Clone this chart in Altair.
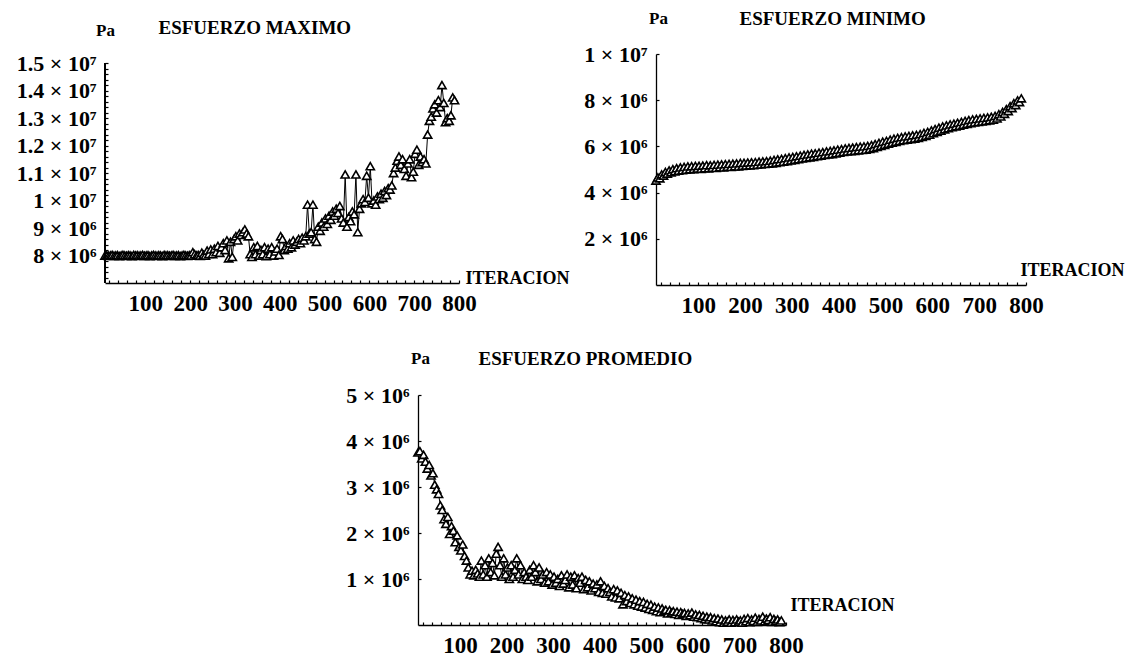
import altair as alt
import pandas as pd

FONT = "Liberation Serif"

iteracion = list(range(10, 791, 4))

# values in units of 1e6 Pa
maximo = [
    8.00, 8.01, 7.99, 8.00, 8.02, 7.99, 8.00, 8.01, 7.98, 8.00,
    8.02, 8.00, 7.99, 8.01, 8.00, 7.98, 8.02, 8.00, 8.01, 7.99,
    8.00, 8.02, 7.99, 8.00, 8.01, 7.98, 8.00, 8.02, 8.00, 7.99,
    8.01, 8.00, 7.98, 8.02, 8.00, 8.01, 7.99, 8.00, 8.02, 7.99,
    8.00, 8.01, 7.98, 8.00, 8.02, 8.00, 7.99, 8.01, 8.00, 8.12,
    8.05, 8.00, 8.02, 7.99, 8.10, 8.03, 8.00, 8.18, 8.06, 8.22,
    8.05, 8.25, 8.12, 8.35, 8.10, 8.30, 8.45, 8.20, 8.55, 7.90,
    8.50, 7.95, 8.60, 8.70, 8.55, 8.80, 8.75, 8.85, 8.95, 8.80,
    8.70, 8.05, 7.95, 8.30, 8.05, 8.35, 8.00, 8.20, 8.05, 8.30,
    7.98, 8.25, 8.05, 8.30, 8.00, 8.15, 8.25, 8.02, 8.70, 8.60,
    8.20, 8.35, 8.25, 8.45, 8.30, 8.55, 8.40, 8.50, 8.60, 8.45,
    8.65, 8.55, 8.70, 9.85, 8.80, 8.85, 9.85, 8.60, 8.50, 9.05,
    8.90, 9.20, 9.05, 9.35, 9.15, 9.45, 9.30, 9.60, 9.45, 9.70,
    9.55, 9.80, 9.35, 9.20, 10.95, 9.05, 9.40, 9.25, 9.60, 9.50,
    10.95, 8.85, 9.70, 9.90, 10.05, 9.95, 10.90, 10.10, 11.25, 9.90,
    10.00, 9.85, 10.15, 10.05, 10.25, 10.10, 10.35, 10.20, 10.45, 10.40,
    10.55, 11.00, 11.20, 11.45, 11.60, 11.30, 11.50, 11.15, 10.90, 11.35,
    11.50, 10.85, 11.05, 11.70, 11.85, 11.30, 11.60, 11.40, 11.50, 11.35,
    12.40, 12.90, 13.05, 13.35, 13.50, 13.20, 13.65, 13.40, 14.20, 13.55,
    12.85, 13.00, 12.90, 13.10, 13.75, 13.65,
]

minimo = [
    4.52, 4.66, 4.62, 4.79, 4.74, 4.89, 4.82, 4.96, 4.88, 5.01,
    4.92, 5.06, 4.95, 5.09, 4.97, 5.11, 4.99, 5.13, 5.01, 5.14,
    5.02, 5.15, 5.04, 5.16, 5.03, 5.17, 5.06, 5.19, 5.05, 5.18,
    5.08, 5.20, 5.07, 5.21, 5.10, 5.22, 5.09, 5.23, 5.12, 5.24,
    5.11, 5.25, 5.14, 5.26, 5.13, 5.28, 5.16, 5.29, 5.17, 5.30,
    5.18, 5.31, 5.19, 5.32, 5.21, 5.34, 5.22, 5.35, 5.24, 5.36,
    5.25, 5.38, 5.27, 5.41, 5.29, 5.44, 5.32, 5.46, 5.34, 5.49,
    5.36, 5.52, 5.39, 5.54, 5.42, 5.57, 5.45, 5.60, 5.48, 5.63,
    5.50, 5.65, 5.53, 5.68, 5.55, 5.70, 5.58, 5.73, 5.60, 5.75,
    5.63, 5.78, 5.65, 5.80, 5.67, 5.83, 5.70, 5.86, 5.73, 5.88,
    5.76, 5.91, 5.78, 5.93, 5.80, 5.95, 5.81, 5.97, 5.83, 5.99,
    5.85, 6.00, 5.86, 6.02, 5.89, 6.05, 5.93, 6.10, 5.98, 6.15,
    6.02, 6.20, 6.07, 6.24, 6.12, 6.29, 6.16, 6.33, 6.20, 6.37,
    6.24, 6.40, 6.27, 6.43, 6.29, 6.45, 6.32, 6.48, 6.34, 6.50,
    6.37, 6.53, 6.41, 6.58, 6.46, 6.63, 6.51, 6.69, 6.57, 6.75,
    6.63, 6.81, 6.68, 6.86, 6.74, 6.91, 6.79, 6.95, 6.83, 6.98,
    6.87, 7.02, 6.90, 7.06, 6.94, 7.10, 6.98, 7.14, 7.01, 7.17,
    7.04, 7.19, 7.06, 7.21, 7.08, 7.23, 7.10, 7.25, 7.13, 7.28,
    7.16, 7.32, 7.21, 7.39, 7.30, 7.49, 7.41, 7.61, 7.53, 7.74,
    7.66, 7.87, 7.79, 7.99, 7.92, 8.08,
]

promedio = [
    3.75, 3.78, 3.62, 3.70, 3.55, 3.40, 3.48, 3.25, 3.30, 3.05,
    2.95, 2.85, 2.60, 2.50, 2.30, 2.20, 2.35, 1.98, 2.15, 2.05,
    1.80, 1.95, 1.70, 1.62, 1.75, 1.50, 1.40, 1.25, 1.10, 1.18,
    1.08, 1.20, 1.12, 1.05, 1.40, 1.10, 1.30, 1.05, 1.45, 1.15,
    1.35, 1.08, 1.55, 1.70, 1.30, 1.05, 1.45, 1.10, 1.25, 1.00,
    1.30, 1.05, 1.20, 1.45, 1.10, 1.30, 1.00, 1.15, 1.05, 0.98,
    1.20, 1.05, 1.30, 1.15, 0.95, 1.25, 1.00, 1.10, 0.92, 1.15,
    0.95, 1.10, 0.88, 1.05, 0.92, 1.00, 0.85, 1.08, 0.90, 0.98,
    1.10, 0.82, 1.05, 0.88, 1.08, 0.80, 1.02, 0.92, 1.05, 0.78,
    0.98, 0.82, 0.95, 0.75, 0.90, 0.80, 0.88, 0.72, 0.95, 0.70,
    0.85, 0.68, 0.80, 0.72, 0.62, 0.78, 0.60, 0.75, 0.58, 0.70,
    0.45, 0.65, 0.52, 0.62, 0.48, 0.58, 0.45, 0.55, 0.42, 0.52,
    0.40, 0.50, 0.38, 0.46, 0.35, 0.44, 0.33, 0.40, 0.30, 0.38,
    0.28, 0.36, 0.30, 0.33, 0.25, 0.32, 0.27, 0.30, 0.24, 0.29,
    0.22, 0.28, 0.24, 0.26, 0.20, 0.25, 0.21, 0.27, 0.18, 0.23,
    0.17, 0.22, 0.15, 0.20, 0.13, 0.18, 0.12, 0.17, 0.10, 0.15,
    0.08, 0.14, 0.06, 0.12, 0.05, 0.10, 0.07, 0.12, 0.05, 0.11,
    0.06, 0.12, 0.07, 0.10, 0.05, 0.13, 0.08, 0.15, 0.06, 0.12,
    0.09, 0.16, 0.07, 0.13, 0.10, 0.18, 0.08, 0.14, 0.11, 0.17,
    0.07, 0.13, 0.09, 0.12, 0.06, 0.10,
]

x_labels = [100, 200, 300, 400, 500, 600, 700, 800]
x_minor = list(range(20, 801, 20))

max_ticks = [8, 9, 10, 11, 12, 13, 14, 15]
max_labels = ["8 × 10⁶", "9 × 10⁶", "1 × 10⁷", "1.1 × 10⁷", "1.2 × 10⁷",
              "1.3 × 10⁷", "1.4 × 10⁷", "1.5 × 10⁷"]
max_minor = [round(7 + 0.2 * i, 2) for i in range(1, 41)]

min_ticks = [2, 4, 6, 8, 10]
min_labels = ["2 × 10⁶", "4 × 10⁶", "6 × 10⁶", "8 × 10⁶", "1 × 10⁷"]

prom_ticks = [1, 2, 3, 4, 5]
prom_labels = ["1 × 10⁶", "2 × 10⁶", "3 × 10⁶", "4 × 10⁶", "5 × 10⁶"]

data = pd.DataFrame({"it": iteracion, "maximo": maximo,
                     "minimo": minimo, "promedio": promedio})


def label_expr(vals, labels):
    parts = [f"abs(datum.value - {v}) < 0.001 ? '{l}'" for v, l in zip(vals, labels)]
    return " : ".join(parts) + " : ''"


def panel(field, ydom, yvals, ylabels, yminor, width, height, titulo,
          pa_xy, tit_xy, iter_xy, y_domain_line=True, y_axis_top=None):
    xs = alt.Scale(domain=[10, 800], nice=False, zero=False)
    ys = alt.Scale(domain=ydom, nice=False, zero=False)
    base = alt.Chart(data)
    line = base.mark_line(color="black", strokeWidth=1).encode(
        x=alt.X("it:Q", scale=xs, axis=alt.Axis(
            orient="bottom", values=x_labels, grid=False, ticks=False, tickSize=0,
            domain=True, domainColor="black", domainWidth=1.3,
            labelFont=FONT, labelFontSize=23, labelFontWeight="bold",
            labelColor="black", labelPadding=9, labelFlush=False,
            labelOverlap=False, labelBound=False,
            title="ITERACION", titleX=iter_xy[0], titleY=iter_xy[1],
            titleAlign="left", titleBaseline="middle", titleAngle=0,
            titleFont=FONT, titleFontSize=18, titleFontWeight="bold",
            titleColor="black")),
        y=alt.Y(f"{field}:Q", scale=ys, axis=alt.Axis(
            orient="left", values=yvals, labelExpr=label_expr(yvals, ylabels),
            grid=False, ticks=False, tickSize=0, domain=y_domain_line,
            domainColor="black", domainWidth=1.3,
            labelFont=FONT, labelFontSize=22, labelFontWeight="bold",
            labelColor="black", labelPadding=9, labelFlush=False,
            labelOverlap=False, labelBound=False,
            title="Pa", titleX=pa_xy[0], titleY=pa_xy[1], titleAngle=0,
            titleAlign="center", titleBaseline="middle",
            titleFont=FONT, titleFontSize=17, titleFontWeight="bold",
            titleColor="black")),
    )
    pts = base.mark_point(shape="triangle-up", filled=True, fill="white",
                          stroke="black", strokeWidth=1.6, size=68,
                          opacity=1).encode(
        x=alt.X("it:Q", scale=xs, axis=alt.Axis(
            orient="bottom", values=x_minor, labels=False, domain=False,
            grid=False, ticks=True, tickSize=3, tickColor="black", tickWidth=1.2,
            offset=-3, title="")),
        y=alt.Y(f"{field}:Q", scale=ys, axis=alt.Axis(
            orient="left", values=yminor, labels=False, domain=False,
            grid=False, ticks=True, tickSize=3, tickColor="black", tickWidth=1.2,
            offset=-3,
            title=titulo, titleX=tit_xy[0], titleY=tit_xy[1], titleAngle=0,
            titleAlign="left", titleBaseline="middle",
            titleFont=FONT, titleFontSize=19, titleFontWeight="bold",
            titleColor="black")),
    )
    layers = [line, pts]
    if not y_domain_line:
        rule = base.mark_rule(color="black", strokeWidth=1.3).encode(
            x=alt.value(0),
            y=alt.datum(ydom[0], scale=ys, axis=None),
            y2=alt.datum(y_axis_top),
        )
        layers.append(rule)
    return alt.layer(*layers).resolve_axis(x="independent", y="independent").properties(
        width=width, height=height)


A = panel("maximo", [7.0, 15.33], max_ticks, max_labels, max_minor, 354, 229,
          "ESFUERZO MAXIMO", (0, -24), (50, -27), (360, -5),
          y_domain_line=False, y_axis_top=15.0)
B = panel("minimo", [0, 10], min_ticks, min_labels, min_ticks, 370, 231,
          "ESFUERZO MINIMO", (2, -36), (80, -36), (364, -15))
C = panel("promedio", [0, 5], prom_ticks, prom_labels, prom_ticks, 368, 230,
          "ESFUERZO PROMEDIO", (2, -37), (57, -37), (372, -20))

spacer = alt.Chart(pd.DataFrame({"s": [0]})).mark_point(
    opacity=0, size=1, strokeWidth=0).encode(
    x=alt.value(0), y=alt.value(0)).properties(width=213, height=10)

top_row = alt.hconcat(A, B, spacing=197, bounds="flush")
bottom_row = alt.hconcat(spacer, C, spacing=100, bounds="flush")

chart = alt.vconcat(top_row, bottom_row, spacing=32, bounds="full").properties(
    padding={"left": 16, "top": 9, "right": 2, "bottom": 2},
    background="white",
).configure_view(strokeWidth=0)

chart.save("out.html", embed_options={"renderer": "svg", "actions": False})
